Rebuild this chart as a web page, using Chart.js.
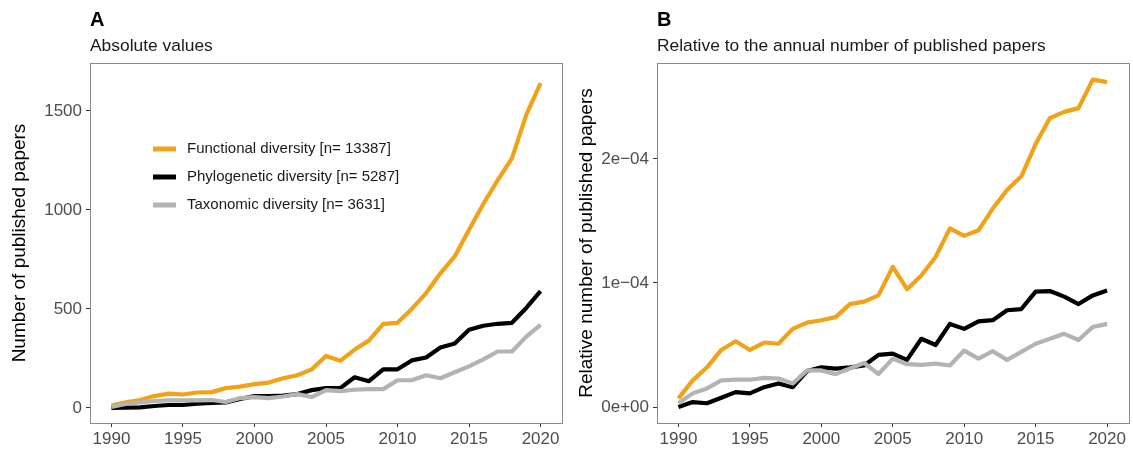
<!DOCTYPE html>
<html>
<head>
<meta charset="utf-8">
<script src="https://cdn.jsdelivr.net/npm/chart.js@4.4.0/dist/chart.umd.min.js"></script>
<style>
  body { margin: 0; background: #fff; font-family: "Liberation Sans", Arial, sans-serif; }
  #page { position: relative; width: 1133px; height: 454px; overflow: hidden; }
  .panel { position: absolute; top: 0; height: 454px; }
  .tag { position: absolute; top: 8px; font-size: 20px; font-weight: bold; color: #000; }
  .sub { position: absolute; top: 35px; font-size: 17.4px; color: #1a1a1a; white-space: nowrap; }
</style>
</head>
<body>
<div id="page">
  <div class="panel" style="left:0;width:570px"><canvas id="chartA"></canvas></div>
  <div class="panel" style="left:570px;width:563px"><canvas id="chartB"></canvas></div>
  <div class="tag" style="left:90px">A</div>
  <div class="sub" style="left:90px">Absolute values</div>
  <div class="tag" style="left:657px">B</div>
  <div class="sub" style="left:657px">Relative to the annual number of published papers</div>
</div>
<script>
const years = [1990, 1991, 1992, 1993, 1994, 1995, 1996, 1997, 1998, 1999, 2000,
  2001, 2002, 2003, 2004, 2005, 2006, 2007, 2008, 2009, 2010,
  2011, 2012, 2013, 2014, 2015, 2016, 2017, 2018, 2019, 2020];

const seriesNames = ['Functional diversity [n= 13387]', 'Phylogenetic diversity [n= 5287]', 'Taxonomic diversity [n= 3631]'];

// panel A: number of papers
const functionalAbs = [12, 28, 40, 60, 72, 68, 78, 80, 100, 108, 120,
  128, 150, 165, 195, 262, 238, 295, 340, 425, 430,
  500, 580, 680, 765, 900, 1030, 1150, 1260, 1480, 1640];
const phylogeneticAbs = [0, 2, 3, 10, 15, 15, 22, 25, 28, 45, 60,
  60, 62, 70, 90, 100, 100, 155, 135, 195, 195,
  240, 255, 305, 325, 395, 415, 425, 430, 505, 590];
const taxonomicAbs = [5, 20, 28, 35, 38, 38, 38, 40, 30, 50, 55,
  50, 58, 70, 55, 90, 85, 92, 95, 95, 140,
  140, 165, 150, 180, 210, 245, 285, 285, 360, 420];

// panel B: relative to annual papers
const functionalRel = [0.70e-5, 2.15e-5, 3.2e-5, 4.6e-5, 5.3e-5, 4.6e-5, 5.2e-5, 5.1e-5, 6.3e-5, 6.8e-5, 7.0e-5,
  7.25e-5, 8.3e-5, 8.5e-5, 9.0e-5, 11.3e-5, 9.5e-5, 10.6e-5, 12.1e-5, 14.4e-5, 13.8e-5,
  14.25e-5, 16.0e-5, 17.5e-5, 18.6e-5, 21.2e-5, 23.3e-5, 23.8e-5, 24.1e-5, 26.4e-5, 26.2e-5];
const phylogeneticRel = [0, 0.4e-5, 0.3e-5, 0.75e-5, 1.2e-5, 1.1e-5, 1.6e-5, 1.9e-5, 1.6e-5, 2.9e-5, 3.2e-5,
  3.1e-5, 3.2e-5, 3.35e-5, 4.2e-5, 4.3e-5, 3.8e-5, 5.5e-5, 5.0e-5, 6.7e-5, 6.3e-5,
  6.9e-5, 7.0e-5, 7.8e-5, 7.9e-5, 9.3e-5, 9.35e-5, 8.9e-5, 8.3e-5, 9.0e-5, 9.4e-5];
const taxonomicRel = [0.3e-5, 1.1e-5, 1.5e-5, 2.15e-5, 2.2e-5, 2.2e-5, 2.35e-5, 2.3e-5, 1.9e-5, 2.95e-5, 2.95e-5,
  2.65e-5, 3.1e-5, 3.55e-5, 2.65e-5, 3.9e-5, 3.45e-5, 3.4e-5, 3.5e-5, 3.35e-5, 4.55e-5,
  3.9e-5, 4.5e-5, 3.8e-5, 4.45e-5, 5.1e-5, 5.5e-5, 5.9e-5, 5.4e-5, 6.45e-5, 6.7e-5];

const xTicks = [1990, 1995, 2000, 2005, 2010, 2015, 2020];
const yTicksA = [0, 500, 1000, 1500];
const yTickLabelsA = ['0', '500', '1000', '1500'];
const yTicksB = [0, 1e-4, 2e-4];
const yTickLabelsB = ['0e+00', '1e\u221204', '2e\u221204'];

const colors = ['#F0A318', '#000000', '#B3B3B3'];
const FONT = '"Liberation Sans", Arial, sans-serif';

const panelBorder = {
  id: 'panelBorder',
  afterDraw(chart) {
    const a = chart.chartArea, ctx = chart.ctx;
    ctx.save();
    ctx.strokeStyle = '#8a8a8a';
    ctx.lineWidth = 1;
    ctx.strokeRect(Math.round(a.left) + 0.5, Math.round(a.top) + 0.5, Math.round(a.right - a.left), Math.round(a.bottom - a.top));
    ctx.restore();
  }
};

const insideLegend = {
  id: 'insideLegend',
  afterDraw(chart, args, opts) {
    if (!opts.show) return;
    const ctx = chart.ctx;
    ctx.save();
    ctx.font = '15px ' + FONT;
    ctx.textBaseline = 'middle';
    seriesNames.forEach((name, i) => {
      const y = opts.y + i * opts.gap;
      ctx.strokeStyle = colors[i];
      ctx.lineWidth = 5;
      ctx.beginPath();
      ctx.moveTo(opts.x, y);
      ctx.lineTo(opts.x + 23, y);
      ctx.stroke();
      ctx.fillStyle = '#1a1a1a';
      ctx.fillText(name, opts.x + 34, y);
    });
    ctx.restore();
  }
};

function makeDatasets(values) {
  return values.map((vals, i) => ({
    label: seriesNames[i],
    data: years.map((yr, k) => ({ x: yr, y: vals[k] })),
    borderColor: colors[i],
    borderWidth: 4.2,
    borderJoinStyle: 'round',
    pointRadius: 0,
    fill: false,
    tension: 0,
    order: 2 - i
  }));
}

function makeChart(id, values, cfg) {
  return new Chart(document.getElementById(id), {
    type: 'line',
    data: { datasets: makeDatasets(values) },
    options: {
      responsive: true,
      maintainAspectRatio: false,
      animation: false,
      layout: { padding: { top: 63, right: cfg.padRight, left: 0, bottom: 0 } },
      plugins: {
        legend: { display: false },
        tooltip: { enabled: false },
        insideLegend: cfg.legend
      },
      scales: {
        x: {
          type: 'linear',
          min: 1988.5,
          max: 2021.5,
          afterBuildTicks: s => { s.ticks = xTicks.map(v => ({ value: v })); },
          afterFit: s => { s.height = 31; },
          border: { display: false },
          grid: { drawOnChartArea: false, drawTicks: true, tickLength: 4, color: '#333' },
          ticks: { color: '#4d4d4d', font: { family: FONT, size: 17 }, padding: 2, maxRotation: 0,
            callback: v => String(v) }
        },
        y: {
          min: cfg.yMin,
          max: cfg.yMax,
          afterBuildTicks: s => { s.ticks = cfg.yTicks.map(v => ({ value: v })); },
          afterFit: s => { s.width = cfg.yWidth; },
          border: { display: false },
          grid: { drawOnChartArea: false, drawTicks: true, tickLength: 4, color: '#333' },
          ticks: { color: '#4d4d4d', font: { family: FONT, size: 17 }, padding: 4,
            callback: v => cfg.yLabels[cfg.yTicks.indexOf(v)] },
          title: { display: true, text: cfg.yTitle, color: '#000', font: { family: FONT, size: 19 },
            padding: { top: cfg.titlePad, bottom: 0 } }
        }
      }
    },
    plugins: [panelBorder, insideLegend]
  });
}

makeChart('chartA', [functionalAbs, phylogeneticAbs, taxonomicAbs], {
  padRight: 8, yWidth: 90, yMin: -76, yMax: 1742,
  yTicks: yTicksA, yLabels: yTickLabelsA,
  yTitle: 'Number of published papers', titlePad: 8,
  legend: { show: true, x: 153, y: 149, gap: 28 }
});

makeChart('chartB', [functionalRel, phylogeneticRel, taxonomicRel], {
  padRight: 4.5, yWidth: 87, yMin: -0.129e-4, yMax: 2.774e-4,
  yTicks: yTicksB, yLabels: yTickLabelsB,
  yTitle: 'Relative number of published papers', titlePad: 5,
  legend: { show: false }
});
</script>
</body>
</html>
